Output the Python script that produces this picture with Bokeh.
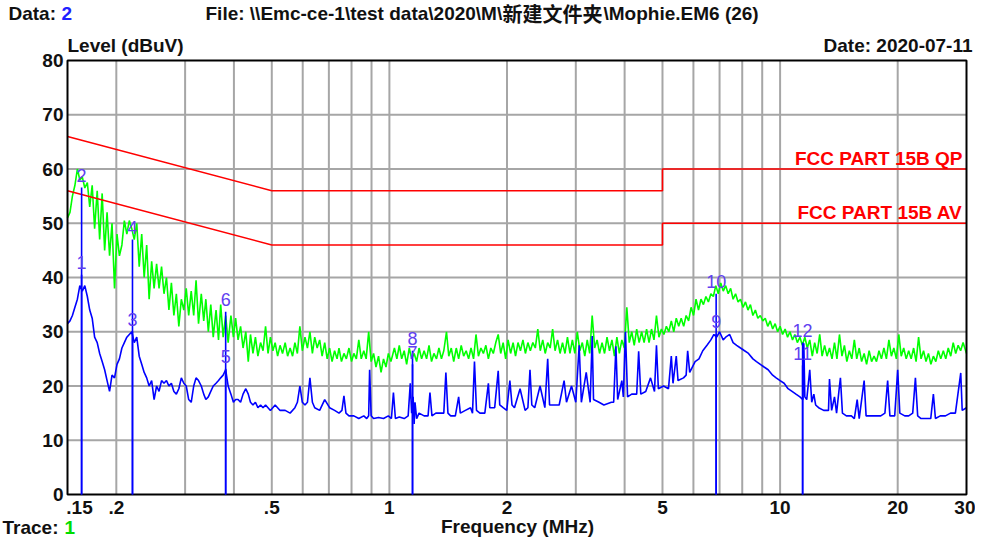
import math
from bokeh.plotting import figure
from bokeh.models import (Range1d, FixedTicker, ColumnDataSource, Label, LogAxis,
                          LinearAxis, LogScale)
from bokeh.core.properties import value
from bokeh.embed import file_html
from bokeh.resources import INLINE

# ---------------- data ----------------
# QP (peak) trace, green
green_f = [
    0.150, 0.1522, 0.1544, 0.1567, 0.1590, 0.1613, 0.1637, 0.1661, 0.1686, 0.1710,
    0.1735, 0.1760, 0.1787, 0.1813, 0.1840, 0.1867, 0.1894, 0.1922, 0.1950, 0.1979,
    0.2008, 0.2037, 0.2067, 0.2097, 0.2128, 0.2159, 0.2191, 0.2223, 0.2256, 0.2289,
    0.2323, 0.2357, 0.2392, 0.2427, 0.2463, 0.2499, 0.2536, 0.2573, 0.2611, 0.2649,
    0.2688, 0.2727, 0.2767, 0.2808, 0.2849, 0.2891, 0.2934, 0.2977, 0.3020, 0.3064,
    0.3110, 0.3156, 0.3200, 0.3247, 0.3300, 0.3348, 0.3390, 0.3440, 0.3490, 0.3541,
    0.3600, 0.3653, 0.3700, 0.3754, 0.3810, 0.3866, 0.3930, 0.3988, 0.4040, 0.4099,
    0.4160, 0.4221, 0.4290, 0.4353, 0.4410, 0.4475, 0.4540, 0.4607, 0.4680, 0.4749,
    0.4820, 0.4891, 0.4960, 0.5033, 0.5100, 0.5175, 0.5250, 0.5327, 0.5410, 0.5489,
    0.5570, 0.5652, 0.5730, 0.5814, 0.5900, 0.5987, 0.6080, 0.6169, 0.6260, 0.6352,
    0.6440, 0.6534, 0.6630, 0.6727, 0.6830, 0.6930, 0.7030, 0.7133, 0.7240, 0.7346,
    0.7430, 0.7540, 0.7650, 0.7760, 0.7880, 0.8000, 0.8110, 0.8230, 0.8350, 0.8470,
    0.8600, 0.8720, 0.8850, 0.8980, 0.9110, 0.9240, 0.9380, 0.9520, 0.9660, 0.9800,
    0.9940, 1.009, 1.030, 1.045, 1.060, 1.075, 1.091, 1.107, 1.124, 1.140,
    1.157, 1.174, 1.191, 1.209, 1.227, 1.245, 1.263, 1.282, 1.300, 1.320,
    1.339, 1.359, 1.378, 1.400, 1.419, 1.440, 1.461, 1.483, 1.504, 1.527,
    1.549, 1.572, 1.595, 1.618, 1.642, 1.666, 1.690, 1.715, 1.740, 1.766,
    1.792, 1.818, 1.845, 1.872, 1.899, 1.927, 1.955, 1.984, 2.013, 2.043,
    2.073, 2.103, 2.134, 2.165, 2.197, 2.229, 2.262, 2.295, 2.329, 2.363,
    2.398, 2.433, 2.469, 2.505, 2.542, 2.579, 2.617, 2.655, 2.694, 2.734,
    2.774, 2.815, 2.856, 2.898, 2.940, 2.983, 3.027, 3.072, 3.117, 3.163,
    3.209, 3.256, 3.304, 3.353, 3.401, 3.451, 3.502, 3.554, 3.606, 3.659,
    3.712, 3.767, 3.822, 3.878, 3.935, 3.993, 4.052, 4.111, 4.171, 4.233,
    4.295, 4.358, 4.422, 4.487, 4.553, 4.620, 4.687, 4.756, 4.826, 4.897,
    4.969, 5.042, 5.116, 5.191, 5.267, 5.344, 5.423, 5.503, 5.583, 5.665,
    5.748, 5.833, 5.918, 6.005, 6.093, 6.183, 6.273, 6.365, 6.459, 6.554,
    6.650, 6.748, 6.846, 6.947, 7.049, 7.153, 7.257, 7.364, 7.472, 7.582,
    7.693, 7.806, 7.920, 8.037, 8.155, 8.275, 8.396, 8.519, 8.644, 8.771,
    8.900, 9.031, 9.163, 9.298, 9.434, 9.573, 9.713, 9.856, 10.00, 10.15,
    10.30, 10.45, 10.60, 10.76, 10.91, 11.07, 11.24, 11.40, 11.57, 11.74,
    11.91, 12.09, 12.26, 12.44, 12.63, 12.81, 13.00, 13.19, 13.38, 13.58,
    13.78, 13.98, 14.19, 14.40, 14.61, 14.82, 15.04, 15.26, 15.49, 15.71,
    15.94, 16.17, 16.41, 16.65, 16.90, 17.15, 17.40, 17.65, 17.91, 18.17,
    18.44, 18.71, 18.99, 19.27, 19.55, 19.84, 20.13, 20.42, 20.72, 21.03,
    21.34, 21.65, 21.97, 22.29, 22.62, 22.95, 23.29, 23.63, 23.97, 24.32,
    24.68, 25.04, 25.41, 25.78, 26.17, 26.55, 26.94, 27.34, 27.74, 28.15,
    28.56, 28.98, 29.40, 30.00,
]
green_db = [
    51, 52, 55, 57, 60, 58, 58.5, 56.5, 57.5, 53,
    57, 49, 56, 47, 55.5, 45, 52, 44, 50, 38,
    48, 44, 46, 50.5, 48, 50.5, 49, 47, 50, 42,
    48, 40, 46, 36, 43, 38, 42.5, 38, 42, 37,
    40, 34, 39, 33, 37, 31, 36, 34, 38, 33,
    37.5, 33, 39.5, 31.5, 37, 32, 36, 30, 35, 29,
    34, 28.5, 35, 29, 33, 28, 33, 29, 32.5, 28.5,
    31, 27, 30, 24.5, 29.5, 26, 29, 25.5, 28, 26.5,
    31, 26, 29, 26.5, 28, 25.5, 27.5, 26, 28, 25.5,
    27, 25.5, 28, 26, 31, 26.5, 29, 27, 30, 26,
    29, 27, 28.5, 25.5, 28, 25, 27, 24.5, 26.5, 25,
    27, 24.5, 26, 25, 27, 24.5, 26, 25, 28.5, 25,
    26.5, 25, 30, 24.5, 26, 23.5, 25.5, 22.5, 25, 23.5,
    26, 24.5, 27, 25, 27.5, 25, 26.5, 24, 27, 25,
    26, 24.5, 27, 25, 26.5, 25, 27.5, 24.5, 26, 25,
    27, 25, 26.5, 30, 25.5, 27, 24.5, 27, 25, 27.5,
    25.5, 26.5, 25, 27, 25, 29.5, 25.5, 27, 26, 27.5,
    25, 27, 26, 28, 29.5, 26, 28, 25, 28.5, 26,
    28, 25.5, 28, 26.5, 28.5, 26, 28, 26.5, 28, 27,
    30.5, 26.5, 28.5, 26, 28, 27, 30.5, 26.5, 28.5, 26,
    28, 26, 29, 26, 28.5, 26, 30, 26.5, 28, 25.5,
    28.5, 26, 33, 27, 28.5, 26, 28, 26, 29, 26.5,
    28.5, 25.5, 29, 26, 28.5, 27, 34.5, 28, 30, 27.5,
    30.5, 28, 30, 28, 30.5, 28, 30.5, 28.5, 33, 29,
    30.5, 29.5, 31, 30, 32, 30, 32.5, 31, 32.5, 31,
    33, 32, 34.5, 33, 36, 34, 36, 35, 36.5, 35.5,
    37, 36.5, 38.5, 37, 39, 37.5, 38.5, 37, 38, 36,
    37, 35.5, 36, 34.5, 35.5, 34, 35, 33, 34, 32.5,
    33, 32, 32.5, 31, 32, 30.5, 31.5, 30, 31, 29.5,
    30.5, 29, 30, 28.5, 29.5, 28, 29, 27.5, 29, 27,
    28.5, 25.5, 28, 26, 29.5, 25.5, 27.5, 25.5, 27, 25,
    28, 25, 29.5, 25.5, 27.5, 24.5, 26.5, 25, 28.5, 25,
    27, 24.5, 26, 24, 26.5, 24.5, 25.5, 24.5, 26.5, 25,
    27, 25, 28.5, 25.5, 27, 25, 29.5, 25.5, 27, 25,
    26.5, 25, 27, 24.5, 29, 25, 26.5, 24.5, 26, 24,
    25.5, 24.5, 26.5, 25, 26.5, 25, 27, 25.5, 28, 26,
    27.5, 26.5, 28, 26,
]

# AV trace, blue
blue_f = [
    0.150, 0.1522, 0.1544, 0.1567, 0.1590, 0.1613, 0.1637, 0.1661, 0.1686, 0.1710,
    0.1735, 0.1760, 0.1787, 0.1813, 0.1840, 0.1867, 0.1894, 0.1922, 0.1950, 0.1979,
    0.2008, 0.2037, 0.2067, 0.2097, 0.2128, 0.2159, 0.2191, 0.2223, 0.2256, 0.2289,
    0.2323, 0.2357, 0.2392, 0.2427, 0.2463, 0.2499, 0.2536, 0.2573, 0.2611, 0.2649,
    0.2688, 0.2727, 0.2767, 0.2808, 0.2849, 0.2891, 0.2934, 0.2977, 0.3020, 0.3064,
    0.3110, 0.3156, 0.3200, 0.3247, 0.3300, 0.3348, 0.3390, 0.3440, 0.3490, 0.3541,
    0.3600, 0.3653, 0.3700, 0.3754, 0.3810, 0.3866, 0.3930, 0.3988, 0.4040, 0.4099,
    0.4160, 0.4221, 0.4290, 0.4353, 0.4410, 0.4475, 0.4540, 0.4607, 0.4680, 0.4749,
    0.482, 0.496, 0.510, 0.525, 0.541, 0.557, 0.573, 0.5814, 0.590, 0.5987,
    0.608, 0.6169, 0.626, 0.6352, 0.644, 0.663, 0.683, 0.703, 0.724, 0.743,
    0.756, 0.765, 0.774, 0.788, 0.811, 0.835, 0.860, 0.875, 0.885, 0.890,
    0.898, 0.911, 0.938, 0.966, 0.994, 1.012, 1.024, 1.036, 1.060, 1.091,
    1.117, 1.131, 1.140, 1.150, 1.157, 1.163, 1.174, 1.191, 1.227, 1.256,
    1.270, 1.285, 1.315, 1.355, 1.378, 1.395, 1.412, 1.435, 1.475, 1.504,
    1.519, 1.565, 1.613, 1.632, 1.651, 1.671, 1.705, 1.755, 1.792, 1.807,
    1.860, 1.899, 1.916, 1.955, 1.997, 2.034, 2.060, 2.090, 2.160, 2.225,
    2.262, 2.290, 2.315, 2.355, 2.430, 2.500, 2.542, 2.570, 2.645, 2.720,
    2.800, 2.840, 2.925, 3.000, 3.060, 3.100, 3.190, 3.265, 3.304, 3.330,
    3.440, 3.540, 3.700, 3.750, 3.800, 3.840, 3.935, 3.970, 4.020, 4.070,
    4.171, 4.295, 4.345, 4.400, 4.530, 4.660, 4.770, 4.826, 4.880, 5.030,
    5.180, 5.267, 5.320, 5.423, 5.480, 5.660, 5.748, 5.800, 5.870, 6.060,
    6.200, 6.340, 6.500, 6.650, 6.770, 6.880, 7.000, 7.150, 7.257, 7.430,
    7.580, 7.740, 7.920, 8.110, 8.300, 8.520, 8.700, 8.900, 9.100, 9.320,
    9.570, 9.770, 10.00, 10.24, 10.48, 10.73, 10.98, 11.24, 11.44, 11.50,
    11.57, 11.70, 11.91, 12.05, 12.20, 12.33, 12.55, 12.93, 13.30, 13.38,
    13.55, 13.78, 13.95, 14.19, 14.27, 14.44, 14.78, 15.22, 15.49, 15.75,
    15.94, 16.41, 16.60, 17.10, 17.60, 18.10, 18.55, 18.85, 19.10, 19.65,
    20.00, 20.25, 20.85, 21.34, 21.85, 22.20, 22.50, 22.95, 23.60, 24.30,
    24.68, 24.98, 25.70, 26.50, 27.30, 28.10, 29.00, 29.25, 30.00,
]
blue_db = [
    31.5, 32, 33, 34.5, 36, 38.5, 37.5, 38.5, 36.5, 34,
    32.5, 29, 28, 26, 24.5, 23, 21, 19, 22, 21.5,
    24, 25, 27, 28, 29, 29.5, 30, 28, 29, 25.5,
    24, 22.5, 21.5, 20, 21, 17.5, 20, 19, 21, 20.5,
    21, 20, 20.5, 19, 18.5, 19.5, 21.5, 20.5, 20, 17.5,
    17, 20, 21.5, 21, 20, 18.5, 17.5, 18, 19, 20,
    20.5, 21, 21.5, 22, 23, 20, 18.5, 17, 17.5, 17.5,
    17, 18.5, 19.5, 18.5, 17, 16.5, 17, 16, 16.5, 16,
    16.5, 15.5, 16.5, 15.5, 15.5, 15, 16, 17, 20, 17,
    16.5, 17, 21.5, 17, 16, 15.5, 17.5, 16, 15.5, 15,
    15.5, 18.2, 15, 14.5, 14.5, 14, 14.5, 14, 14.5, 23,
    14.5, 14, 14.2, 14, 14.5, 14, 18.8, 14, 14.3, 14,
    14.5, 20.5, 15, 18, 13, 17, 14, 15, 14.5, 14.5,
    18.8, 14.5, 15, 15, 15, 22.5, 15, 14.5, 14.5, 18,
    15, 15.5, 16, 15, 24.5, 15.5, 15, 15, 20.5, 16,
    16, 22.8, 16.5, 16, 15.5, 21, 16.5, 16, 19.5, 15.5,
    16, 23, 16.5, 16, 20, 16, 25, 16.5, 16.5, 16.5,
    21, 17, 20, 17, 27.5, 17, 22.5, 17, 29.2, 17.5,
    17, 16.5, 17, 17, 27.3, 17.5, 21, 18, 30, 18,
    18.5, 18.5, 26.4, 18.5, 19, 21.5, 19, 27.5, 19.5, 20,
    19.5, 25.5, 20.5, 25.5, 21, 21.5, 22, 26.5, 22.5, 24.5,
    25, 26.5, 27.5, 28.5, 29.5, 29, 30, 28.5, 29, 29.5,
    28, 27.5, 27, 26.5, 26, 25, 24.5, 24, 23.5, 23,
    22, 21.5, 21, 20.5, 19.5, 19, 18.5, 18, 17.5, 27.9,
    18, 17.5, 23, 17, 18.5, 16.5, 16, 15.5, 15.5, 21.3,
    15.5, 18, 15, 20, 21.5, 15, 14.5, 14.5, 14, 17.5,
    14, 21, 14.5, 14.5, 14.5, 14.5, 15, 21, 14.5, 14.5,
    23, 15, 14.5, 14.5, 15, 21.5, 14.5, 14, 14, 14,
    18.5, 14, 14.5, 14.5, 15, 15, 22.4, 15.5, 16,
]

# FCC Part 15B limit lines (MHz, dBuV)
limit_f = [0.15, 0.5, 0.5, 5, 5, 30]
qp_limit = [66, 56, 56, 56, 60, 60]
av_limit = [56, 46, 46, 46, 50, 50]

# markers
marker_f = [0.163, 0.163, 0.220, 0.220, 0.381, 0.381, 1.146, 1.146, 6.86, 6.86, 11.42, 11.42]
marker_db = [40.5, 56.6, 30.0, 47.0, 23.2, 33.7, 24.0, 26.5, 29.6, 37.0, 23.8, 28.0]
marker_lbl = ["1", "2", "3", "4", "5", "6", "7", "8", "9", "10", "11", "12"]

# axes
F_MIN, F_MAX = 0.15, 30.0
DB_MIN, DB_MAX = 0, 80
grid_f = [0.2, 0.3, 0.4, 0.5, 0.6, 0.7, 0.8, 0.9, 1, 2, 3, 4, 5, 6, 7, 8, 9, 10, 20]
grid_db = [10, 20, 30, 40, 50, 60, 70]
y_ticks = [0, 10, 20, 30, 40, 50, 60, 70, 80]
x_tick_pos = [0.161, 0.2, 0.5, 1, 2, 5, 10, 20, 30]
x_tick_lbl = [".15", ".2", ".5", "1", "2", "5", "10", "20", "30"]

# ---------------- layout (pixels) ----------------
W, H = 975, 537
PX_L, PX_R = 67, 966     # where F_MIN / F_MAX land
PX_B, PX_T = 494, 60     # where DB_MIN / DB_MAX land
K = (PX_R - PX_L) / math.log10(F_MAX / F_MIN)
S = (PX_B - PX_T) / (DB_MAX - DB_MIN)
BASE_FIX = 6             # alphabetic-baseline correction of the renderer, px


def fx(px):
    return F_MIN * 10 ** ((px - PX_L) / K)


def fy(py):
    return DB_MIN + (PX_B - py) / S


FONT = "Liberation Sans"
CJK = "Noto Sans CJK SC"
DARK = "#111111"

p = figure(width=W, height=H, x_axis_type="log",
           x_range=Range1d(fx(0), fx(W)), y_range=Range1d(fy(H), fy(0)),
           x_axis_location=None, y_axis_location=None,
           output_backend="svg", toolbar_location=None,
           min_border=0, min_border_left=0, min_border_right=0,
           min_border_top=0, min_border_bottom=0)
p.x_scale = LogScale()
p.outline_line_color = None
p.background_fill_color = "white"
p.border_fill_color = "white"
p.grid.visible = False

# grid lines
p.segment(x0=grid_f, y0=[DB_MIN] * len(grid_f), x1=grid_f, y1=[DB_MAX] * len(grid_f),
          line_color="#a6a6a6", line_width=2)
p.segment(x0=[F_MIN] * len(grid_db), y0=grid_db, x1=[F_MAX] * len(grid_db), y1=grid_db,
          line_color="#a6a6a6", line_width=2)

# traces and limits
p.line(green_f, green_db, line_color="#00ff00", line_width=1.6)
p.line(blue_f, blue_db, line_color="#0000ff", line_width=1.6)
p.line(limit_f, qp_limit, line_color="#ff0000", line_width=1.6)
p.line(limit_f, av_limit, line_color="#ff0000", line_width=1.6)

# plot box
p.quad(left=[F_MIN], right=[F_MAX], bottom=[DB_MIN], top=[DB_MAX],
       fill_color=None, line_color="black", line_width=2)

# markers
msrc = ColumnDataSource(dict(f=marker_f, db=marker_db, lbl=marker_lbl))
p.segment(x0="f", y0=DB_MIN, x1="f", y1="db", source=msrc, line_color="#0000ff", line_width=1.6)
p.text(x="f", y="db", text="lbl", source=msrc, text_align="center",
       text_baseline="alphabetic", y_offset=-12,
       text_font=value(FONT), text_font_size="18px", text_color="#6040f0")

# axes, fixed on the plot box
xa = LogAxis(fixed_location=DB_MIN, bounds=(F_MIN, F_MAX),
             ticker=FixedTicker(ticks=x_tick_pos, minor_ticks=[]))
xa.major_label_overrides = {k: v for k, v in zip(x_tick_pos, x_tick_lbl)}
ya = LinearAxis(fixed_location=F_MIN, bounds=(DB_MIN, DB_MAX),
                ticker=FixedTicker(ticks=y_ticks, minor_ticks=[]))
for ax in (xa, ya):
    ax.axis_line_color = None
    ax.major_tick_line_color = None
    ax.minor_tick_line_color = None
    ax.major_tick_in = 0
    ax.major_tick_out = 0
    ax.major_label_text_font = FONT
    ax.major_label_text_font_style = "bold"
    ax.major_label_text_font_size = "19px"
    ax.major_label_text_color = DARK
xa.major_label_standoff = 6
ya.major_label_standoff = 4
p.add_layout(xa, "below")
p.add_layout(ya, "left")


def lab(text, px, py, align="left", color=DARK, font=FONT, size="19px", style="bold"):
    p.add_layout(Label(x=fx(px), y=fy(py - BASE_FIX), text=text, text_align=align,
                       text_baseline="alphabetic", text_font=font, text_font_size=size,
                       text_font_style=style, text_color=color))


lab("Data: ", 8, 19)
lab("2", 61, 19, color="#2020ff")
lab("File: \\\\Emc-ce-1\\test data\\2020\\M\\", 205, 19)
lab("新建文件夹", 502, 19, font=CJK, size="20px")
lab("\\Mophie.EM6  (26)", 603, 19)
lab("Level (dBuV)", 67, 51)
lab("Date: 2020-07-11", 972, 51, align="right")
lab("FCC PART 15B QP", 962, 163.5, align="right", color="#ff0000")
lab("FCC PART 15B AV", 962, 217.5, align="right", color="#ff0000")
lab("Frequency (MHz)", 517, 532, align="center")
lab("Trace: ", 2, 533)
lab("1", 64, 533, color="#00dd00")

open("out.html", "w").write(file_html(p, INLINE))
